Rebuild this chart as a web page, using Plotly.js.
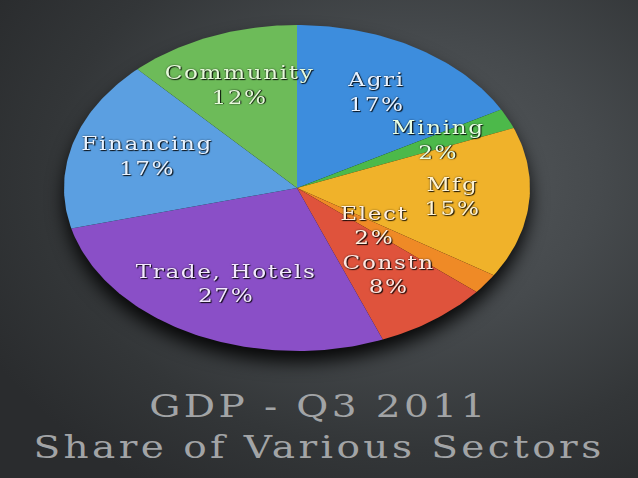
<!DOCTYPE html>
<html><head><meta charset="utf-8">
<script src="https://cdn.plot.ly/plotly-3.0.1.min.js"></script>
<style>
html,body{margin:0;padding:0;width:638px;height:478px;overflow:hidden;
background: radial-gradient(ellipse 75% 75% at 64% 38%, #575b5e 0%, #464a4d 40%, #333638 75%, #2a2c2e 100%);}
#chart{width:638px;height:478px;}
.cartesianlayer{filter: drop-shadow(0px 11px 9px rgba(0,0,0,0.9));}
.textpoint text{letter-spacing:1.3px; transform-box:fill-box; transform-origin:center; transform:scaleX(1.22);}
.gtitle{letter-spacing:2.7px; transform-box:fill-box; transform-origin:center; transform:scaleX(1.26);}
</style></head><body><div id="chart"></div>
<script>
// ---- data ----
const sectors = ['Agri','Mining','Mfg','Elect','Constn','Trade, Hotels','Financing','Community'];
const shares  = [17, 2, 15, 2, 8, 27, 17, 12];
const titleLine1 = 'GDP - Q3 2011';
const titleLine2 = 'Share of Various Sectors';

// ---- styles ----
const sliceColors = ['#3d8ddd','#4cb94a','#f0b22a','#ef8a26','#df533c','#8a4fc7','#5b9fe1','#6dbb59'];
const textColors  = ['#e8f2ff','#e8ffe4','#fff3d2','#fff0e0','#ffe6e0','#f3e8ff','#e9f3ff','#e6f9da'];
const labelRadius = {'Elect': 0.41};   // default 0.67
const defaultLabelRadius = 0.67;

const total = shares.reduce((a,b)=>a+b,0);
const traces = [];
let cum = 0;
const lx = [], ly = [], lt = [];
shares.forEach((v,i)=>{
  const a0 = cum/total*2*Math.PI, a1 = (cum+v)/total*2*Math.PI;
  const n = Math.max(4, Math.ceil((a1-a0)/(Math.PI/180)));
  const xs=[0], ys=[0];
  for(let k=0;k<=n;k++){ const a=a0+(a1-a0)*k/n; xs.push(Math.sin(a)); ys.push(Math.cos(a)); }
  xs.push(0); ys.push(0);
  traces.push({type:'scatter', mode:'lines', x:xs, y:ys, fill:'toself', fillcolor:sliceColors[i],
    line:{width:0, color:sliceColors[i]}, name:sectors[i], hoverinfo:'name', showlegend:false});
  const am = (a0+a1)/2, r = labelRadius[sectors[i]] ?? defaultLabelRadius;
  lx.push(r*Math.sin(am)); ly.push(r*Math.cos(am));
  lt.push(sectors[i] + '<br>' + Math.round(v/total*100) + '%');
  cum += v;
});
traces.push({type:'scatter', mode:'text', x:lx, y:ly, text:lt, textposition:'middle center',
  textfont:{family:'DejaVu Serif', size:19, color:textColors,
    shadow:'1px 1px 1px rgba(0,0,0,0.85), 0px 0px 2px rgba(0,0,0,0.6)'},
  hoverinfo:'skip', showlegend:false});

const layout = {
  width:638, height:478,
  paper_bgcolor:'rgba(0,0,0,0)', plot_bgcolor:'rgba(0,0,0,0)',
  margin:{l:64, r:108, t:25, b:127},
  xaxis:{range:[-1,1], visible:false, fixedrange:true},
  yaxis:{range:[-1,1], visible:false, fixedrange:true},
  showlegend:false,
  title:{text: titleLine1 + '<br>' + titleLine2, x:0.5, xanchor:'center',
    y:0.127, yref:'container', yanchor:'middle',
    font:{family:'DejaVu Serif', size:31, color:'#a2a4a6'}}
};
Plotly.newPlot('chart', traces, layout, {displayModeBar:false, staticPlot:true});
</script></body></html>
